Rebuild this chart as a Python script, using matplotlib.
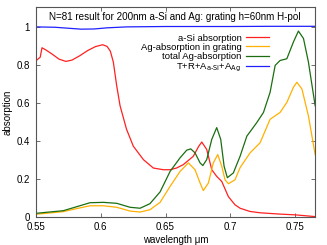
import matplotlib
matplotlib.use("Agg")
import matplotlib.pyplot as plt

plt.rcParams['font.family'] = ['Liberation Sans', 'DejaVu Sans']

title = "N=81 result for 200nm a-Si and Ag: grating h=60nm H-pol"

# a-Si absorption
wl_si = [0.55, 0.5535, 0.5549, 0.558, 0.563, 0.568, 0.5733, 0.578, 0.584, 0.59, 0.596, 0.6016,
         0.605, 0.6075, 0.6098, 0.6124, 0.615, 0.620, 0.6252, 0.633, 0.6406, 0.6483, 0.6535,
         0.6585, 0.6637, 0.6714, 0.6755, 0.6779, 0.6817, 0.6856, 0.6894, 0.6933, 0.6984,
         0.7035, 0.7074, 0.715, 0.7228, 0.7382, 0.75, 0.765]
a_si = [0.82, 0.84, 0.89, 0.878, 0.855, 0.83, 0.818, 0.825, 0.848, 0.875, 0.896, 0.906,
        0.897, 0.872, 0.815, 0.69, 0.584, 0.46, 0.371, 0.30, 0.256, 0.247, 0.247,
        0.256, 0.274, 0.318, 0.37, 0.393, 0.354, 0.247, 0.212, 0.185, 0.105,
        0.062, 0.044, 0.027, 0.02, 0.013, 0.009, 0.0]

# Ag absorption in grating
wl_ag = [0.55, 0.5713, 0.5816, 0.5918, 0.6021, 0.6124, 0.6227, 0.6304, 0.638, 0.6458,
         0.6535, 0.6612, 0.6676, 0.6727, 0.6766, 0.6791, 0.683, 0.6868, 0.6902, 0.6933,
         0.6958, 0.6984, 0.7035, 0.7074, 0.7151, 0.7228, 0.7305, 0.7382, 0.7434, 0.7485,
         0.7511, 0.755, 0.76, 0.7652]
a_ag = [0.012, 0.026, 0.042, 0.057, 0.057, 0.049, 0.029, 0.024, 0.036, 0.075,
        0.159, 0.238, 0.283, 0.247, 0.177, 0.137, 0.177, 0.283, 0.327, 0.265,
        0.194, 0.173, 0.194, 0.258, 0.336, 0.389, 0.513, 0.549, 0.602, 0.682,
        0.708, 0.673, 0.531, 0.327]

# total Ag absorption
wl_tot = [0.55, 0.5713, 0.5816, 0.5918, 0.6021, 0.6124, 0.6227, 0.6304, 0.638, 0.6458,
          0.6535, 0.6612, 0.6663, 0.6694, 0.6727, 0.6766, 0.6787, 0.6817, 0.6856, 0.6894,
          0.6925, 0.6951, 0.6976, 0.7022, 0.7074, 0.7126, 0.7203, 0.7254, 0.7305, 0.7344,
          0.7382, 0.7434, 0.7485, 0.7523, 0.7562, 0.76, 0.7652]
a_tot = [0.017, 0.031, 0.052, 0.073, 0.075, 0.07, 0.049, 0.044, 0.068, 0.13,
         0.238, 0.31, 0.35, 0.357, 0.336, 0.283, 0.269, 0.30, 0.407, 0.469,
         0.407, 0.265, 0.205, 0.23, 0.318, 0.424, 0.496, 0.549, 0.655, 0.797,
         0.823, 0.832, 0.921, 0.978, 0.939, 0.815, 0.584]

# T+R+A_aSi+A_Ag
wl_sum = [0.55, 0.565, 0.575, 0.585, 0.595, 0.605, 0.62, 0.65, 0.7, 0.73, 0.765]
a_sum = [1.0, 0.998, 0.993, 0.988, 0.989, 0.995, 1.0, 1.002, 1.002, 1.003, 1.003]

fig = plt.figure(figsize=(3.27, 2.45), dpi=100)
ax = fig.add_axes([0.109, 0.116, 0.854, 0.854])

ax.plot(wl_si, a_si, color='#ff2020', lw=0.9, label='a-Si absorption')
ax.plot(wl_ag, a_ag, color='#ffb000', lw=0.9, label='Ag-absorption in grating')
ax.plot(wl_tot, a_tot, color='#1a6e10', lw=0.9, label='total Ag-absorption')
ax.plot(wl_sum, a_sum, color='#2020ff', lw=0.9, label='T+R+A$_{\\mathrm{a\\text{-}Si}}$+A$_{\\mathrm{Ag}}$')

ax.set_xlim(0.55, 0.765)
ax.set_ylim(0, 1.103)
ax.set_xticks([0.55, 0.6, 0.65, 0.7, 0.75])
ax.set_xticklabels(['0.55', '0.6', '0.65', '0.7', '0.75'])
ax.set_yticks([0, 0.2, 0.4, 0.6, 0.8, 1])
ax.set_yticklabels(['0', '0.2', '0.4', '0.6', '0.8', '1'])
ax.tick_params(direction='in', top=True, right=True, labelsize=7, length=3, width=0.6,
               color='#555555')
ax.tick_params(axis='x', pad=4)
ax.tick_params(axis='y', pad=4)
for s in ax.spines.values():
    s.set_color('#555555')
    s.set_linewidth(0.8)

ax.set_xlabel('wavelength \u03bcm', fontsize=7, labelpad=2)
ax.set_ylabel('absorption', fontsize=7, labelpad=3)
ax.text(0.5, 0.955, title, transform=ax.transAxes, ha='center', va='center', fontsize=7.1)

ax.legend(loc='upper right', bbox_to_anchor=(0.835, 0.875), fontsize=6.8, frameon=False,
          markerfirst=False, handlelength=2.4, handletextpad=0.5, labelspacing=0.02,
          borderpad=0, borderaxespad=0)

fig.savefig('out.png', dpi=100)
